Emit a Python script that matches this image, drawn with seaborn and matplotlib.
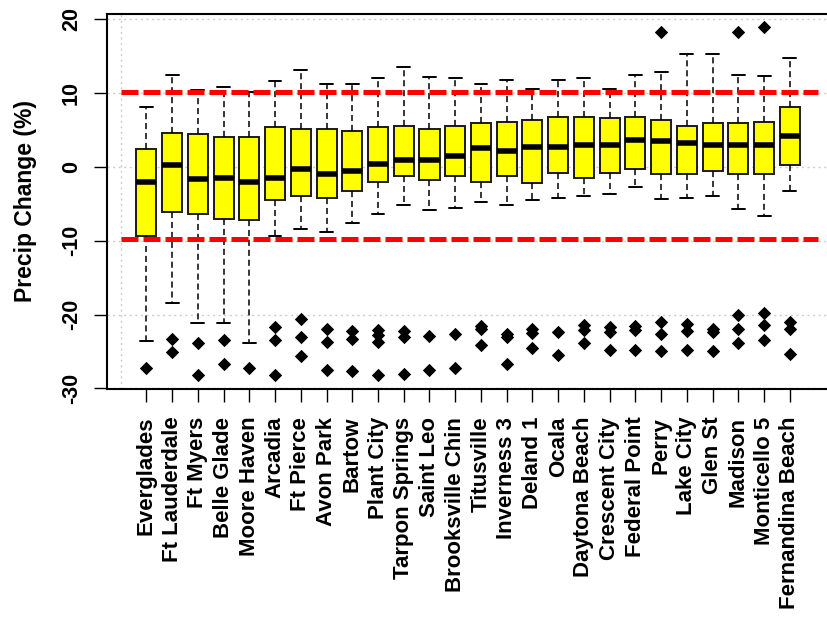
import seaborn as sns
import matplotlib.pyplot as plt
import pandas as pd

stations = ["Everglades", "Ft Lauderdale", "Ft Myers", "Belle Glade", "Moore Haven",
            "Arcadia", "Ft Pierce", "Avon Park", "Bartow", "Plant City",
            "Tarpon Springs", "Saint Leo", "Brooksville Chin", "Titusville",
            "Inverness 3", "Deland 1", "Ocala", "Daytona Beach", "Crescent City",
            "Federal Point", "Perry", "Lake City", "Glen St", "Madison",
            "Monticello 5", "Fernandina Beach"]

whisker_hi = [8.1, 12.5, 10.4, 10.8, 10.2, 11.6, 13.2, 11.2, 11.2, 12.0, 13.5, 12.2, 12.0,
              11.3, 11.8, 10.5, 11.8, 12.0, 10.5, 12.5, 12.8, 15.3, 15.3, 12.5, 12.3, 14.7]
q3 = [2.4, 4.6, 4.4, 4.1, 4.0, 5.4, 5.2, 5.2, 4.9, 5.4, 5.6, 5.2, 5.6,
      5.9, 6.1, 6.4, 6.7, 6.8, 6.6, 6.8, 6.4, 5.6, 5.9, 5.9, 6.1, 8.1]
median = [-2.0, 0.2, -1.7, -1.5, -2.0, -1.5, -0.3, -1.0, -0.5, 0.35, 1.0, 1.0, 1.5,
          2.5, 2.2, 2.7, 2.7, 3.0, 3.0, 3.6, 3.5, 3.2, 3.0, 3.0, 3.0, 4.2]
q1 = [-9.3, -6.1, -6.4, -7.0, -7.2, -4.5, -3.9, -4.2, -3.2, -2.0, -1.2, -1.8, -1.2,
      -2.0, -1.2, -2.2, -0.8, -1.5, -0.8, -0.25, -1.0, -1.0, -0.5, -1.0, -1.0, 0.25]
whisker_lo = [-23.6, -18.5, -21.2, -21.2, -23.9, -9.4, -8.4, -8.8, -7.6, -6.4, -5.2, -5.9, -5.5,
              -4.7, -5.2, -4.5, -4.2, -3.9, -3.7, -2.7, -4.4, -4.2, -3.9, -5.7, -6.7, -3.2]
outliers = [[-27.2], [-23.3, -25.1], [-23.8, -28.2], [-23.5, -26.7], [-27.2],
            [-21.7, -23.5, -28.2], [-20.6, -23.1, -25.6], [-22.0, -23.7, -27.5],
            [-22.2, -23.3, -27.7], [-22.1, -22.8, -23.7, -28.2], [-22.2, -23.1, -28.0],
            [-22.9, -27.5], [-22.7, -27.2], [-21.6, -21.9, -24.1], [-22.7, -23.1, -26.7],
            [-21.9, -22.5, -24.5], [-22.3, -25.5], [-21.4, -22.1, -23.8],
            [-21.7, -22.3, -24.8], [-21.6, -22.1, -24.8], [18.3, -21.0, -22.6, -25.0],
            [-21.3, -22.2, -24.8], [-21.9, -22.3, -25.0], [18.3, -20.1, -21.9, -23.8],
            [18.9, -19.8, -21.4, -23.5], [-21.0, -21.9, -25.3]]
thresholds = [10.1, -9.7]
yticks = [-30, -20, -10, 0, 10, 20]

sns.set_style('ticks')
plt.rcParams['font.family'] = ['Liberation Sans', 'DejaVu Sans']
plt.rcParams.update({'text.color': 'black', 'axes.labelcolor': 'black',
                     'xtick.color': 'black', 'ytick.color': 'black'})

# five-number summaries -> long table (quartiles land exactly on q1/q3)
rows = []
for name, vals in zip(stations, zip(whisker_lo, q1, median, q3, whisker_hi)):
    for v in vals:
        rows.append((name, v))
box_df = pd.DataFrame(rows, columns=['Station', 'Change'])
out_df = pd.DataFrame([(s, v) for s, vals in zip(stations, outliers) for v in vals],
                      columns=['Station', 'Change'])

fig = plt.figure(figsize=(8.28, 6.22), dpi=100)
ax = fig.add_axes([107 / 828, 1 - 389 / 622, 733 / 828, 375 / 622])

sns.boxplot(data=box_df, x='Station', y='Change', order=stations, whis=(0, 100),
            width=0.78, color='#ffff00', saturation=1, linecolor='#1a1a1a', linewidth=1.4,
            medianprops=dict(linewidth=4, color='black'),
            whiskerprops=dict(linestyle=(0, (4, 2.5)), linewidth=1.1, color='black'),
            capprops=dict(linewidth=1.4, color='black'),
            capwidths=0.5, ax=ax, zorder=2)
sns.stripplot(data=out_df, x='Station', y='Change', order=stations, jitter=False,
              marker='D', size=6.8, color='black', ax=ax, zorder=4)

ax.hlines(thresholds, -1, 26.1, colors='red', linestyles=(0, (3.4, 1.0)),
          linewidth=3.6, zorder=3)

ax.set_xlim(-1.53, 26.95)
ax.set_ylim(-30.09, 20.72)
ax.set_yticks(yticks)
ax.set_xticks([-1, 4, 9, 14, 19, 24], minor=True)
ax.set_axisbelow(True)
ax.yaxis.grid(True, color='#cccccc', linestyle=(0, (1.5, 2.5)), linewidth=1)
ax.xaxis.grid(False, which='major')
ax.xaxis.grid(True, which='minor', color='#cccccc', linestyle=(0, (1.5, 2.5)), linewidth=1)

ax.tick_params(axis='x', which='minor', length=0)
ax.tick_params(axis='both', which='major', direction='out', length=9.4, width=1,
               color='black', bottom=True, left=True)
ax.tick_params(axis='x', which='major', pad=10.5)
ax.tick_params(axis='y', which='major', pad=8.6)
ax.set_xticks(range(len(stations)))
ax.set_xticklabels(stations, rotation=90, fontsize=16, fontweight='bold', color='black')
ax.set_yticklabels([str(t) for t in yticks], rotation=90, va='center',
                   fontsize=15.5, fontweight='bold', color='black')

for side in ['top', 'bottom', 'left', 'right']:
    ax.spines[side].set_visible(True)
    ax.spines[side].set_color('black')
    ax.spines[side].set_linewidth(1.5)

ax.set_xlabel('')
ax.set_ylabel('Precip Change (%)', fontsize=16.5, fontweight='bold', color='black')
ax.yaxis.set_label_coords(-0.0955, 0.5)

plt.savefig('out.png', dpi=100)
